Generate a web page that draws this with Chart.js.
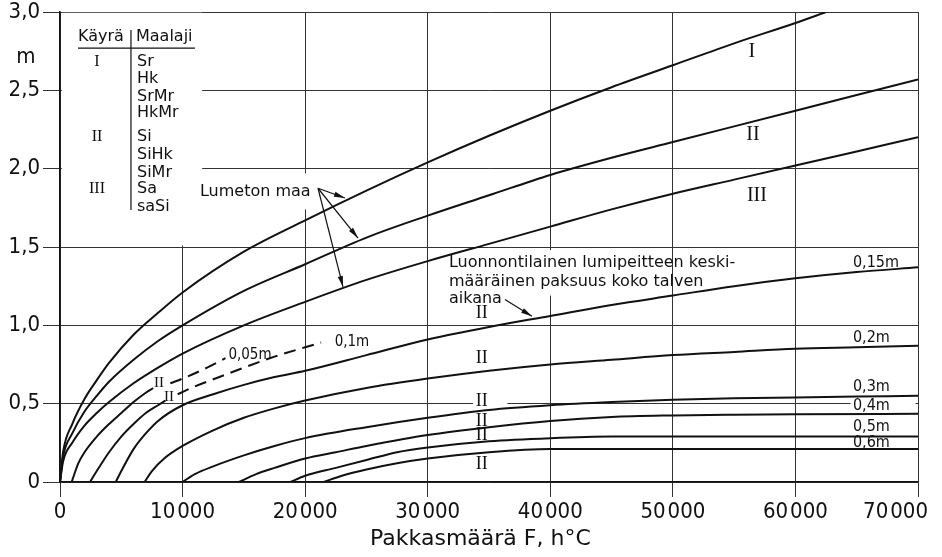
<!DOCTYPE html>
<html>
<head>
<meta charset="utf-8">
<title>Routasyvyys</title>
<script src="https://cdn.jsdelivr.net/npm/chart.js@4.4.0/dist/chart.umd.min.js"></script>
<style>
  html, body { margin: 0; padding: 0; background: #fff; }
  #wrap { width: 942px; height: 557px; }
</style>
</head>
<body>
<div id="wrap"><canvas id="frostChart"></canvas></div>
<script>
// -- Data: frost depth (m) against freezing index F (h°C), pairs [F, depth] --
const lumetonI = [[0,0],[250,0.19],[1000,0.37],[2000,0.53],[3000,0.65],[4000,0.76],[6000,0.94],[8000,1.08],[10000,1.21],[15000,1.47],[20000,1.67],[25000,1.86],[30000,2.04],[35000,2.21],[40000,2.37],[45000,2.52],[50000,2.66],[55000,2.80],[60000,2.93],[62500,3.0]]
const lumetonII = [[0,0],[250,0.16],[1000,0.31],[2000,0.45],[3000,0.55],[4000,0.64],[6000,0.78],[8000,0.90],[10000,1.0],[15000,1.22],[20000,1.39],[25000,1.56],[30000,1.70],[35000,1.83],[40000,1.96],[45000,2.07],[50000,2.17],[55000,2.27],[60000,2.37],[65000,2.47],[70000,2.57]]
const lumetonIII = [[0,0],[250,0.13],[1000,0.25],[2000,0.36],[3000,0.44],[4000,0.51],[6000,0.63],[8000,0.73],[10000,0.82],[15000,1.0],[20000,1.15],[25000,1.29],[30000,1.41],[35000,1.52],[40000,1.63],[45000,1.74],[50000,1.84],[55000,1.93],[60000,2.02],[65000,2.11],[70000,2.20]]

// snow cover curves (soil class II)
const lumi005 = [[950,0],[1500,0.12],[2000,0.19],[3000,0.29],[4000,0.37],[5000,0.44],[6000,0.51],[7000,0.57],[7600,0.60]]
const lumi005Dash = [[9000,0.63],[10000,0.66],[12000,0.73],[13500,0.79]]
const lumi01 = [[2450,0],[3000,0.07],[4000,0.19],[5000,0.29],[6000,0.37],[7000,0.44],[8000,0.49],[8600,0.52]]
const lumi01Dash = [[9600,0.56],[11000,0.61],[13000,0.67],[15000,0.73],[17500,0.80],[20000,0.86],[21300,0.89]]
const lumi015 = [[4550,0],[5000,0.07],[6000,0.21],[7000,0.31],[8000,0.39],[10000,0.49],[12500,0.56],[15000,0.62],[17500,0.67],[20000,0.71],[25000,0.81],[30000,0.91],[35000,0.99],[40000,1.06],[45000,1.13],[50000,1.19],[55000,1.25],[60000,1.30],[65000,1.34],[70000,1.37]]
const lumi02 = [[6900,0],[7500,0.07],[8500,0.15],[10000,0.23],[12500,0.33],[15000,0.41],[17500,0.47],[20000,0.52],[25000,0.60],[30000,0.66],[35000,0.71],[40000,0.75],[45000,0.78],[50000,0.81],[55000,0.83],[60000,0.85],[65000,0.86],[70000,0.87]]
const lumi03 = [[10000,0],[11000,0.05],[12500,0.10],[15000,0.17],[17500,0.23],[20000,0.28],[25000,0.35],[30000,0.41],[35000,0.46],[40000,0.49],[45000,0.51],[50000,0.525],[55000,0.535],[60000,0.54],[65000,0.545],[70000,0.55]]
const lumi04 = [[14600,0],[16000,0.05],[17500,0.09],[20000,0.15],[22500,0.19],[25000,0.23],[30000,0.30],[35000,0.35],[40000,0.39],[45000,0.415],[50000,0.425],[55000,0.43],[60000,0.433],[70000,0.435]]
const lumi05 = [[18800,0],[20000,0.04],[22500,0.09],[25000,0.14],[27500,0.19],[30000,0.22],[35000,0.26],[40000,0.28],[45000,0.29],[50000,0.29],[70000,0.29]]
const lumi06 = [[21500,0],[23000,0.04],[25000,0.08],[27500,0.12],[30000,0.15],[35000,0.19],[40000,0.21],[45000,0.21],[70000,0.21]]

// tick values
const fTicks = [0, 10000, 20000, 30000, 40000, 50000, 60000, 70000]
const dTicks = [0, 0.5, 1.0, 1.5, 2.0, 2.5, 3.0]

// legend table text
const curveClasses = ['I', 'II', 'III']
const soilTypes = ['Sr', 'Hk', 'SrMr', 'HkMr', 'Si', 'SiHk', 'SiMr', 'Sa', 'saSi']
const snowLabels = ['0,15m', '0,2m', '0,3m', '0,4m', '0,5m', '0,6m']

// -- Label placement, in data units (F, depth) --
const soilRowsD = [2.681, 2.572, 2.457, 2.355, 2.202, 2.087, 1.972, 1.870, 1.755]
const classRowsD = [2.681, 2.202, 1.870]
const snowLabelD = [1.398, 0.919, 0.606, 0.485, 0.351, 0.249]
const midIID = [1.079, 0.791, 0.517, 0.389, 0.300, 0.115]
const gridGaps = [
  [150, 11600, 1.51, 2.995],
  [19750, 20250, 1.74, 1.97],
  [39750, 40250, 1.19, 1.48],
  [33700, 36500, 0.48, 0.52],
  [64500, 69800, 0.48, 0.52]
]

const narrow = "'DejaVu Sans Condensed', 'Liberation Sans Narrow', 'DejaVu Sans', sans-serif"
const sans = "'DejaVu Sans', 'Liberation Sans', sans-serif"
const serif = "'Liberation Serif', 'DejaVu Serif', serif"
const ink = '#111'

let toPoints = arr => arr.map(p => ({x: p[0], y: p[1]}))

let curve = function(arr, dashed) {
  return {
    data: toPoints(arr),
    showLine: true,
    borderColor: ink,
    borderWidth: 2,
    borderDash: dashed ? [12, 7] : [],
    pointRadius: 0,
    cubicInterpolationMode: 'monotone',
    fill: false
  }
}

let fmtF = v => v === 0 ? '0' : (v / 1000) + '\u200a000'
let fmtD = v => v === 0 ? '0' : v.toFixed(1).replace('.', ',')

let text = function(ctx, str, x, y, size, family, align) {
  ctx.font = size + 'px ' + family
  ctx.textAlign = align || 'left'
  ctx.textBaseline = 'middle'
  ctx.fillText(str, x, y)
}

let arrow = function(ctx, x1, y1, x2, y2) {
  ctx.beginPath()
  ctx.moveTo(x1, y1)
  ctx.lineTo(x2, y2)
  ctx.stroke()
  let a = Math.atan2(y2 - y1, x2 - x1), len = 11, w = 2.6
  ctx.beginPath()
  ctx.moveTo(x2, y2)
  ctx.lineTo(x2 - len * Math.cos(a) + w * Math.sin(a), y2 - len * Math.sin(a) - w * Math.cos(a))
  ctx.lineTo(x2 - len * Math.cos(a) - w * Math.sin(a), y2 - len * Math.sin(a) + w * Math.cos(a))
  ctx.closePath()
  ctx.fill()
}

// white-out grid segments that the original leaves open behind its text
const gridGapPlugin = {
  id: 'gridGaps',
  beforeDatasetsDraw(chart) {
    let {ctx, scales: {x, y}} = chart
    ctx.save()
    ctx.fillStyle = '#fff'
    for (let g of gridGaps) {
      let px0 = x.getPixelForValue(g[0]), px1 = x.getPixelForValue(g[1])
      let py0 = y.getPixelForValue(g[3]), py1 = y.getPixelForValue(g[2])
      ctx.fillRect(px0, py0, px1 - px0, py1 - py0)
    }
    ctx.restore()
  }
}

const notesPlugin = {
  id: 'notes',
  afterDatasetsDraw(chart) {
    let {ctx, scales: {x, y}, chartArea} = chart
    let px = v => x.getPixelForValue(v)
    let py = v => y.getPixelForValue(v)
    ctx.save()
    ctx.fillStyle = ink
    ctx.strokeStyle = ink
    ctx.lineWidth = 1.2

    // x tick labels, the last one kept inside the page as in the original
    ctx.font = '22px ' + narrow
    for (let v of fTicks) {
      let label = fmtF(v), w = ctx.measureText(label).width
      let cx = Math.min(px(v), chart.width - 14 - w / 2)
      text(ctx, label, cx, chartArea.bottom + 30, 22, narrow, 'center')
    }
    text(ctx, 'Pakkasmäärä F, h°C', px(34300), chartArea.bottom + 57, 22, sans, 'center')

    // unit of the depth axis
    text(ctx, 'm', chartArea.left - 34, py(2.712), 22, narrow, 'center')

    // legend table
    text(ctx, 'Käyrä', px(1470), py(2.84), 16, sans)
    text(ctx, 'Maalaji', px(6200), py(2.84), 16, sans)
    ctx.beginPath()
    ctx.moveTo(px(1470), py(2.77))
    ctx.lineTo(px(11010), py(2.77))
    ctx.moveTo(px(5790), py(2.885))
    ctx.lineTo(px(5790), py(1.736))
    ctx.stroke()
    curveClasses.forEach((c, i) => text(ctx, c, px(3020), py(classRowsD[i]), 16, serif, 'center'))
    soilTypes.forEach((s, i) => text(ctx, s, px(6280), py(soilRowsD[i]), 16, sans))

    // snow free ground
    text(ctx, 'Lumeton maa', px(11420), py(1.851), 16, sans)
    let tx = px(21050), ty = py(1.875)
    arrow(ctx, tx, ty, px(23250), py(1.813))
    arrow(ctx, tx, ty, px(24310), py(1.557))
    arrow(ctx, tx, ty, px(23090), py(1.245))
    text(ctx, 'I', px(56450), py(2.745), 20, serif, 'center')
    text(ctx, 'II', px(56530), py(2.215), 20, serif, 'center')
    text(ctx, 'III', px(56860), py(1.825), 20, serif, 'center')

    // natural snow cover note
    text(ctx, 'Luonnontilainen lumipeitteen keski-', px(31730), py(1.398), 16, sans)
    text(ctx, 'määräinen paksuus koko talven', px(31730), py(1.277), 16, sans)
    text(ctx, 'aikana', px(31730), py(1.168), 16, sans)
    arrow(ctx, px(36300), py(1.165), px(38500), py(1.058))

    // soil class marks on the snow curves
    midIID.forEach(d => text(ctx, 'II', px(34400), py(d), 18, serif, 'center'))
    text(ctx, 'II', px(8080), py(0.632), 15, serif, 'center')
    text(ctx, 'II', px(8890), py(0.543), 15, serif, 'center')
    text(ctx, '0,05m', px(15500), py(0.81), 15, narrow, 'center')
    text(ctx, '0,1m', px(23820), py(0.893), 15, narrow, 'center')
    snowLabels.forEach((s, i) => text(ctx, s, px(64690), py(snowLabelD[i]), 16, narrow))
    ctx.restore()
  }
}

let ctx = document.getElementById('frostChart')
let chart = new Chart(ctx, {
  type: 'scatter',
  data: {
    datasets: [
      curve(lumetonI), curve(lumetonII), curve(lumetonIII),
      curve(lumi005), curve(lumi005Dash, true),
      curve(lumi01), curve(lumi01Dash, true),
      curve(lumi015), curve(lumi02), curve(lumi03),
      curve(lumi04), curve(lumi05), curve(lumi06)
    ]
  },
  options: {
    responsive: true,
    maintainAspectRatio: false,
    animation: false,
    events: [],
    layout: { padding: { top: 12, right: 24, bottom: 0, left: 0 } },
    plugins: { legend: { display: false }, tooltip: { enabled: false } },
    scales: {
      x: {
        type: 'linear',
        min: 0,
        max: 70000,
        afterBuildTicks: s => { s.ticks = fTicks.map(v => ({value: v})) },
        ticks: { display: false },
        grid: { color: '#333', lineWidth: 1, tickLength: 15 },
        border: { color: ink, width: 1.5 },
        afterFit: s => { s.height = 75; s.paddingLeft = 0; s.paddingRight = 0 }
      },
      y: {
        type: 'linear',
        min: 0,
        max: 3,
        afterBuildTicks: s => { s.ticks = dTicks.map(v => ({value: v})) },
        ticks: { color: ink, padding: 3, font: { family: narrow, size: 22, lineHeight: 1 }, callback: v => fmtD(v) },
        grid: { color: '#333', lineWidth: 1, tickLength: 17 },
        border: { color: ink, width: 1.5 },
        afterFit: s => { s.width = 60; s.paddingTop = 0; s.paddingBottom = 0 }
      }
    }
  },
  plugins: [gridGapPlugin, notesPlugin]
})
</script>
</body>
</html>
